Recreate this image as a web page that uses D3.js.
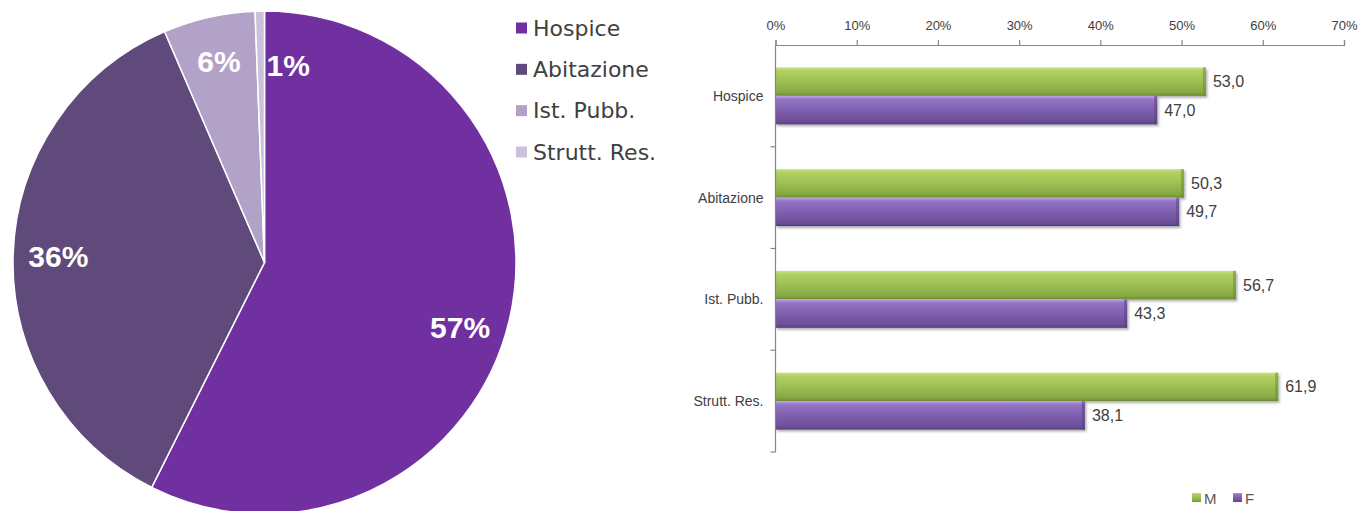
<!DOCTYPE html>
<html>
<head>
<meta charset="utf-8">
<script src="https://cdn.jsdelivr.net/npm/d3@7"></script>
<style>
  html, body { margin: 0; padding: 0; background: #ffffff; }
  svg { display: block; }
</style>
</head>
<body>
<svg id="chart" width="1359" height="511"></svg>
<script>
// ---------- data ----------
const pieCategories = ["Hospice", "Abitazione", "Ist. Pubb.", "Strutt. Res."];
const pieValues = [57.4, 36.1, 5.9, 0.6];
const pieColors = ["#7030A0", "#604A7B", "#B3A2C7", "#CCC1DA"];

const barCategories = ["Hospice", "Abitazione", "Ist. Pubb.", "Strutt. Res."];
const seriesNames = ["M", "F"];
const valuesM = [53.0, 50.3, 56.7, 61.9];
const valuesF = [47.0, 49.7, 43.3, 38.1];
const xTickValues = [0, 10, 20, 30, 40, 50, 60, 70];

// ---------- setup ----------
const svg = d3.select("#chart");
const defs = svg.append("defs");

// ---------- PIE ----------
const cx = 264.5, cy = 262.5, R = 251.5;
const pie = d3.pie().sort(null).value(d => d.v);
const pieData = pie(pieCategories.map((c, i) => ({ c, v: pieValues[i], color: pieColors[i] })));
const arc = d3.arc().innerRadius(0).outerRadius(R);
const gPie = svg.append("g").attr("transform", `translate(${cx},${cy})`);
gPie.selectAll("path.slice").data(pieData).enter().append("path")
  .attr("class", "slice")
  .attr("d", arc)
  .attr("fill", d => d.data.color)
  .attr("stroke", "#ffffff")
  .attr("stroke-width", 1.5);

const labelArc = d3.arc().innerRadius(R * 0.82).outerRadius(R * 0.82);
const labelArcNarrow = d3.arc().innerRadius(R * 0.79).outerRadius(R * 0.79);
gPie.selectAll("text.plabel").data(pieData).enter().append("text")
  .attr("class", "plabel")
  .attr("transform", d => {
    let p;
    const span = d.endAngle - d.startAngle;
    if (span < 0.1) {
      // narrow slice: label pushed just past the slice edge
      const a = d.endAngle + 0.12;
      p = labelArcNarrow.centroid({ startAngle: a, endAngle: a });
    } else if (span > Math.PI) {
      // large slice: label a bit further round (lower) like the original
      const a = (d.startAngle + d.endAngle) / 2 + 0.09;
      p = labelArc.centroid({ startAngle: a, endAngle: a });
    } else {
      p = labelArc.centroid(d);
    }
    return `translate(${p[0]},${p[1]})`;
  })
  .attr("text-anchor", "middle")
  .attr("dominant-baseline", "central")
  .attr("fill", "#ffffff")
  .attr("font-family", "'Liberation Sans', Arial, sans-serif")
  .attr("font-weight", "bold")
  .attr("font-size", 30)
  .text(d => Math.round(d.data.v) + "%");

// Pie legend
const legY = d3.scalePoint().domain(pieCategories).range([28, 152]);
const gLeg = svg.append("g");
const legItems = gLeg.selectAll("g").data(pieCategories).enter().append("g")
  .attr("transform", c => `translate(516,${legY(c)})`);
legItems.append("rect").attr("x", 0).attr("y", -5.5).attr("width", 11).attr("height", 11)
  .attr("fill", (c, i) => pieColors[i]);
legItems.append("text").attr("x", 17).attr("y", 0)
  .attr("dominant-baseline", "central")
  .attr("font-family", "'DejaVu Sans', sans-serif")
  .attr("font-size", 22)
  .attr("fill", "#404040")
  .text(c => c);

// ---------- BAR CHART ----------
const x = d3.scaleLinear().domain([0, 70]).range([775.5, 1344]);
const y = d3.scaleBand().domain(barCategories).range([45, 452]).padding(0);
const ySub = d3.scaleBand().domain(seriesNames).range([0, y.bandwidth()]).paddingOuter(0.785).paddingInner(0);

// gradients
function makeGrad(id, stops) {
  const g = defs.append("linearGradient").attr("id", id)
    .attr("x1", 0).attr("y1", 0).attr("x2", 0).attr("y2", 1);
  stops.forEach(s => g.append("stop").attr("offset", s[0]).attr("stop-color", s[1]));
}
makeGrad("gradM", [[0, "#c9e08a"], [0.12, "#b1d062"], [0.5, "#9dbf52"], [0.88, "#86a843"], [1, "#6d8a33"]]);
makeGrad("gradF", [[0, "#c0a6e6"], [0.12, "#9474c4"], [0.5, "#7f5faf"], [0.88, "#6c4f98"], [1, "#56407a"]]);
const shadow = defs.append("filter").attr("id", "shadow").attr("x", "-5%").attr("y", "-20%").attr("width", "115%").attr("height", "160%");
shadow.append("feDropShadow").attr("dx", 1.5).attr("dy", 2).attr("stdDeviation", 1.2)
  .attr("flood-color", "#000").attr("flood-opacity", 0.3);

const barRows = barCategories.map((c, i) => ({ c, M: valuesM[i], F: valuesF[i] }));
const gBars = svg.append("g");
const grads = { M: "url(#gradM)", F: "url(#gradF)" };
const edgeColors = { M: "#6f8c35", F: "#5a427f" };

barRows.forEach(row => {
  seriesNames.forEach(s => {
    const y0 = y(row.c) + ySub(s);
    const h = ySub.bandwidth();
    gBars.append("rect")
      .attr("x", x(0)).attr("y", y0)
      .attr("width", x(row[s]) - x(0)).attr("height", h)
      .attr("fill", grads[s])
      .attr("filter", "url(#shadow)");
    // right bevel
    gBars.append("rect")
      .attr("x", x(row[s]) - 3).attr("y", y0)
      .attr("width", 3).attr("height", h)
      .attr("fill", edgeColors[s]).attr("opacity", 0.55);
    gBars.append("text")
      .attr("x", x(row[s]) + 7)
      .attr("y", y0 + h / 2)
      .attr("dominant-baseline", "central")
      .attr("font-family", "'Liberation Sans', Arial, sans-serif")
      .attr("font-size", 16)
      .attr("fill", "#404040")
      .text(d3.format(".1f")(row[s]).replace(".", ","));
  });
});

// x axis (top)
const gx = svg.append("g").attr("transform", `translate(0,45)`)
  .call(d3.axisTop(x).tickValues(xTickValues).tickSize(5).tickPadding(10).tickFormat(d => d + "%"));
gx.select(".domain").attr("stroke", "#868686").attr("stroke-width", 1.2);
gx.selectAll(".tick line").attr("stroke", "#868686").attr("stroke-width", 1.2);
gx.selectAll(".tick text").attr("fill", "#404040")
  .attr("font-family", "'Liberation Sans', Arial, sans-serif").attr("font-size", 13);

// y axis (left) with ticks at band boundaries
const gy = svg.append("g");
gy.append("line").attr("x1", x(0)).attr("x2", x(0)).attr("y1", 45).attr("y2", 452)
  .attr("stroke", "#868686").attr("stroke-width", 1.2);
const boundaries = barCategories.map(c => y(c) + y.bandwidth());
gy.selectAll("line.bt").data(boundaries).enter().append("line")
  .attr("class", "bt")
  .attr("x1", x(0) - 5).attr("x2", x(0)).attr("y1", d => d).attr("y2", d => d)
  .attr("stroke", "#868686").attr("stroke-width", 1.2);
gy.selectAll("text").data(barCategories).enter().append("text")
  .attr("x", x(0) - 12)
  .attr("y", c => y(c) + y.bandwidth() / 2)
  .attr("text-anchor", "end")
  .attr("dominant-baseline", "central")
  .attr("font-family", "'Liberation Sans', Arial, sans-serif")
  .attr("font-size", 14)
  .attr("fill", "#404040")
  .text(c => c);

// bar legend
const legX = d3.scalePoint().domain(seriesNames).range([1192, 1233]);
const swatch = { M: "url(#gradM)", F: "url(#gradF)" };
const gL2 = svg.append("g");
seriesNames.forEach(s => {
  gL2.append("rect").attr("x", legX(s)).attr("y", 493).attr("width", 9).attr("height", 9)
    .attr("fill", swatch[s]);
  gL2.append("text").attr("x", legX(s) + 12).attr("y", 498)
    .attr("dominant-baseline", "central")
    .attr("font-family", "'Liberation Sans', Arial, sans-serif")
    .attr("font-size", 15)
    .attr("fill", "#595959")
    .text(s);
});
</script>
</body>
</html>
